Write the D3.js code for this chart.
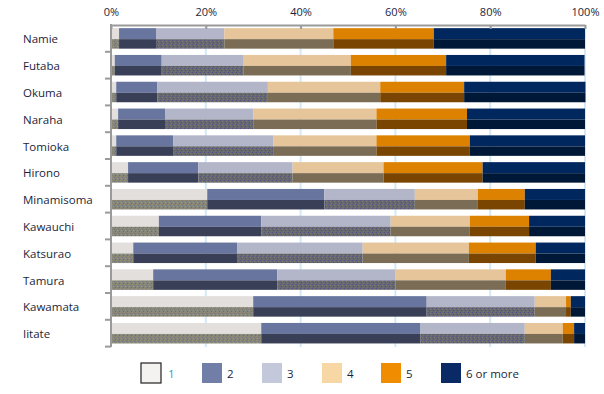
<!DOCTYPE html>
<html>
<head>
<meta charset="utf-8">
<script src="https://cdn.jsdelivr.net/npm/d3@7"></script>
<style>
body { margin: 0; background: #fff; }
text { font-family: "Open Sans", sans-serif; fill: #1b1f3b; }
</style>
</head>
<body>
<div id="chart"></div>
<script>
// household size shares per municipality (%)
var towns = ["Namie", "Futaba", "Okuma", "Naraha", "Tomioka", "Hirono", "Minamisoma",
    "Kawauchi", "Katsurao", "Tamura", "Kawamata", "Iitate"];
var sizes = ["1", "2", "3", "4", "5", "6 or more"];

var s1 = [1.7, 0.8, 1.1, 1.5, 1.1, 3.6, 20.3, 10.1, 4.7, 8.9, 30.0, 31.7];
var s2 = [7.8, 9.9, 8.7, 9.9, 12.0, 14.8, 24.7, 21.6, 21.9, 26.2, 36.6, 33.6];
var s3 = [14.4, 17.3, 23.3, 18.6, 21.1, 19.9, 19.1, 27.3, 26.5, 24.9, 22.8, 22.0];
var s4 = [23.0, 22.6, 23.7, 26.0, 21.8, 19.2, 13.3, 16.7, 22.4, 23.3, 6.6, 8.0];
var s5 = [21.2, 20.1, 17.7, 19.1, 19.7, 20.9, 9.9, 12.5, 14.1, 9.5, 1.0, 2.4];
var s6 = [31.9, 29.2, 25.6, 24.9, 24.3, 21.6, 12.7, 11.8, 10.4, 7.2, 3.0, 2.3];

var xTicks = [0, 20, 40, 60, 80, 100];

var topColors = ["#e2dfdd", "#68759e", "#b3b5c9", "#e5c599", "#dd8200", "#00285f"];
var lowColors = ["#878578", "#393f57", "#686a73", "#7b6d55", "#7a4500", "#001837"];
var legendColors = ["#f4f2f1", "#717fa8", "#c3c8da", "#f7d8a5", "#ef8c00", "#0a2a66"];

var W = 604, H = 394;
var svg = d3.select("#chart").append("svg").attr("width", W).attr("height", H);

var rows = towns.map(function(t, i) {
    var o = { town: t };
    var vals = [s1[i], s2[i], s3[i], s4[i], s5[i], s6[i]];
    sizes.forEach(function(s, j) { o[s] = vals[j]; });
    return o;
});
var series = d3.stack().keys(sizes)(rows);

var x = d3.scaleLinear().domain([0, 100]).range([111, 585]);
var y = d3.scaleBand().domain(towns).range([25, 346.6]).paddingInner(0.235).paddingOuter(0.1175);

// speckled textures for lower halves
var defs = svg.append("defs");
function speckle(id, base, dots) {
    var p = defs.append("pattern").attr("id", id).attr("width", 4).attr("height", 4)
        .attr("patternUnits", "userSpaceOnUse");
    p.append("rect").attr("width", 4).attr("height", 4).attr("fill", base);
    var spots = [[0, 0], [2, 1], [1, 2], [3, 3]];
    spots.forEach(function(s, k) {
        p.append("rect").attr("x", s[0]).attr("y", s[1]).attr("width", 1).attr("height", 1)
            .attr("fill", dots[k % dots.length]);
    });
}
speckle("sp0", "#85857a", ["#9a8a70", "#6f7a80", "#a09a88", "#707060"]);
speckle("sp2", "#66696f", ["#5a4f8a", "#7a7c70", "#4d4a7e", "#727468"]);
var lowFill = lowColors.map(function(c, j) {
    if (j === 0) return "url(#sp0)";
    if (j === 2) return "url(#sp2)";
    return c;
});

// gridlines
svg.append("g").selectAll("line").data(xTicks.slice(1)).enter().append("line")
    .attr("x1", function(d) { return x(d); }).attr("x2", function(d) { return x(d); })
    .attr("y1", 25).attr("y2", 347)
    .attr("stroke", "#d3e9f6").attr("stroke-width", 2);

// bars
var bh = y.bandwidth();
var topH = Math.round(bh * 0.53);
var layer = svg.append("g").selectAll("g").data(series).enter().append("g");
layer.selectAll("rect.top").data(function(d) { return d; }).enter().append("rect")
    .attr("class", "top")
    .attr("x", function(d) { return x(d[0]); })
    .attr("width", function(d) { return x(d[1]) - x(d[0]); })
    .attr("y", function(d) { return y(d.data.town); })
    .attr("height", topH)
    .attr("fill", function() { return topColors[d3.select(this.parentNode).datum().index]; });
layer.selectAll("rect.low").data(function(d) { return d; }).enter().append("rect")
    .attr("class", "low")
    .attr("x", function(d) { return x(d[0]); })
    .attr("width", function(d) { return x(d[1]) - x(d[0]); })
    .attr("y", function(d) { return y(d.data.town) + topH; })
    .attr("height", bh - topH)
    .attr("fill", function() { return lowFill[d3.select(this.parentNode).datum().index]; });

// top axis
var xAxis = d3.axisTop(x).tickValues(xTicks).tickFormat(function(d) { return d + "%"; })
    .tickSizeInner(-4).tickSizeOuter(0).tickPadding(9);
var gx = svg.append("g").attr("transform", "translate(0,25)").call(xAxis);
gx.select(".domain").attr("stroke", "#9a9a9a").attr("stroke-width", 2);
gx.selectAll(".tick line").attr("stroke", "#9a9a9a").attr("stroke-width", 2);
gx.selectAll(".tick text").style("font-family", "'Open Sans', sans-serif")
    .style("font-size", "11px").attr("fill", "#1b1f3b");

// left axis with ticks at band edges
svg.append("line").attr("x1", x(0)).attr("x2", x(0)).attr("y1", 24).attr("y2", 347)
    .attr("stroke", "#9a9a9a").attr("stroke-width", 2);
var edges = towns.map(function(t) { return y(t) - y.step() * y.paddingInner() / 2 + y.step(); });
svg.append("g").selectAll("line").data(edges).enter().append("line")
    .attr("x1", x(0) - 6).attr("x2", x(0))
    .attr("y1", function(d) { return d; }).attr("y2", function(d) { return d; })
    .attr("stroke", "#9a9a9a").attr("stroke-width", 2);

// category labels
svg.append("g").selectAll("text").data(towns).enter().append("text")
    .attr("x", 23)
    .attr("y", function(d) { return y(d) + bh / 2 + 1; })
    .attr("dy", "0.35em")
    .style("font-size", "11.5px")
    .text(function(d) { return d; });

// legend
var legendX = [141, 202, 262, 322, 381, 441];
var lg = svg.append("g").selectAll("g").data(sizes).enter().append("g")
    .attr("transform", function(d, i) { return "translate(" + legendX[i] + ",363)"; });
lg.append("rect").attr("width", 20).attr("height", 20)
    .attr("fill", function(d, i) { return legendColors[i]; })
    .attr("stroke", function(d, i) { return i === 0 ? "#231f20" : "none"; })
    .attr("stroke-width", 1.2);
lg.append("text").attr("x", function(d, i) { return i === 0 ? 27 : 25; }).attr("y", 15)
    .style("font-size", "11.5px")
    .style("fill", function(d, i) { return i === 0 ? "#2f9bd3" : "#1b1f3b"; })
    .text(function(d) { return d; });
</script>
</body>
</html>
